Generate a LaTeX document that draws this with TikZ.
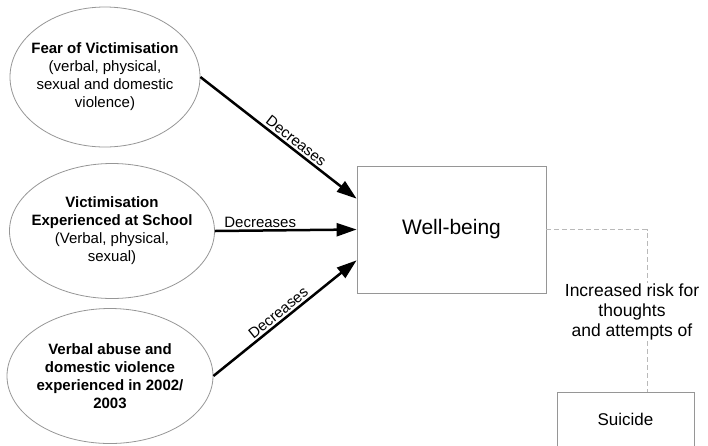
\documentclass[tikz,border=0pt]{standalone}
\usepackage{fontspec}
\setmainfont{Liberation Sans}
\usetikzlibrary{arrows.meta,shapes.geometric,positioning}
\definecolor{rimgray}{RGB}{150,150,150}
\definecolor{dashgray}{RGB}{185,185,185}
\tikzset{
    causebubble/.style={
        ellipse,
        draw=rimgray,
        line width=0.8pt,
        align=center,
        inner xsep=-12pt,
        inner ysep=0pt,
        font=\fontsize{15}{18}\selectfont
    },
    % box for the outcomes
    outcomebox/.style={
        rectangle,
        draw=rimgray,
        line width=0.8pt,
        align=center
    },
    causearrow/.style={
        line width=2.5pt,
        black,
        -{Triangle[length=20pt, width=13pt]}
    },
    risklink/.style={
        dashgray,
        line width=1pt,
        dash pattern=on 5pt off 3pt
    },
    arrowtext/.style={
        font=\fontsize{15}{18}\selectfont,
        inner sep=2pt
    }
}
\begin{document}
\begin{tikzpicture}[x=1pt,y=-1pt]
	\useasboundingbox (0,0) rectangle (708,445);
	
	% causes
	\node[causebubble, minimum width=190pt, minimum height=140pt] (fear) at (105,77)
	{\textbf{Fear of Victimisation}\\(verbal, physical,\\sexual and domestic\\violence)};
	\node[causebubble, minimum width=205pt, minimum height=135pt] (school) at (112,231)
	{\textbf{Victimisation}\\\textbf{Experienced at School}\\(Verbal, physical,\\sexual)};
	\node[causebubble, minimum width=206pt, minimum height=135pt] (abuse) at (110,376)
	{\textbf{Verbal abuse and}\\\textbf{domestic violence}\\\textbf{experienced in 2002/}\\\textbf{2003}};
	
	% outcomes
	\node[outcomebox, minimum width=189pt, minimum height=127pt,
	font=\fontsize{21}{25}\selectfont] (wellbeing) at (451.5,229.5) {Well-being};
	\node[outcomebox, minimum width=137pt, minimum height=54pt,
	font=\fontsize{17}{20}\selectfont] (suicide) at (625.5,419) {Suicide};
	\node[align=center, font=\fontsize{17.5}{20}\selectfont, inner sep=1pt] (risk) at (632,312)
	{Increased risk for\\thoughts\\and attempts of};
	\coordinate (bend) at (647,229.5);
	
	% arrows
	\draw[causearrow] (fear.east) to node[arrowtext, pos=0.58, sloped, above] {Decreases} (wellbeing.162);
	\draw[causearrow] (school.east) to node[arrowtext, pos=0.32, above] {Decreases} (wellbeing.west);
	\draw[causearrow] (abuse.east) to node[arrowtext, pos=0.49, sloped, above] {Decreases} (wellbeing.198);
	
	% dashed link
	\draw[risklink] (wellbeing.east) -- (bend) -- (bend |- risk.north);
	\draw[risklink] (bend |- risk.south) -- (bend |- suicide.north);
\end{tikzpicture}
\end{document}
